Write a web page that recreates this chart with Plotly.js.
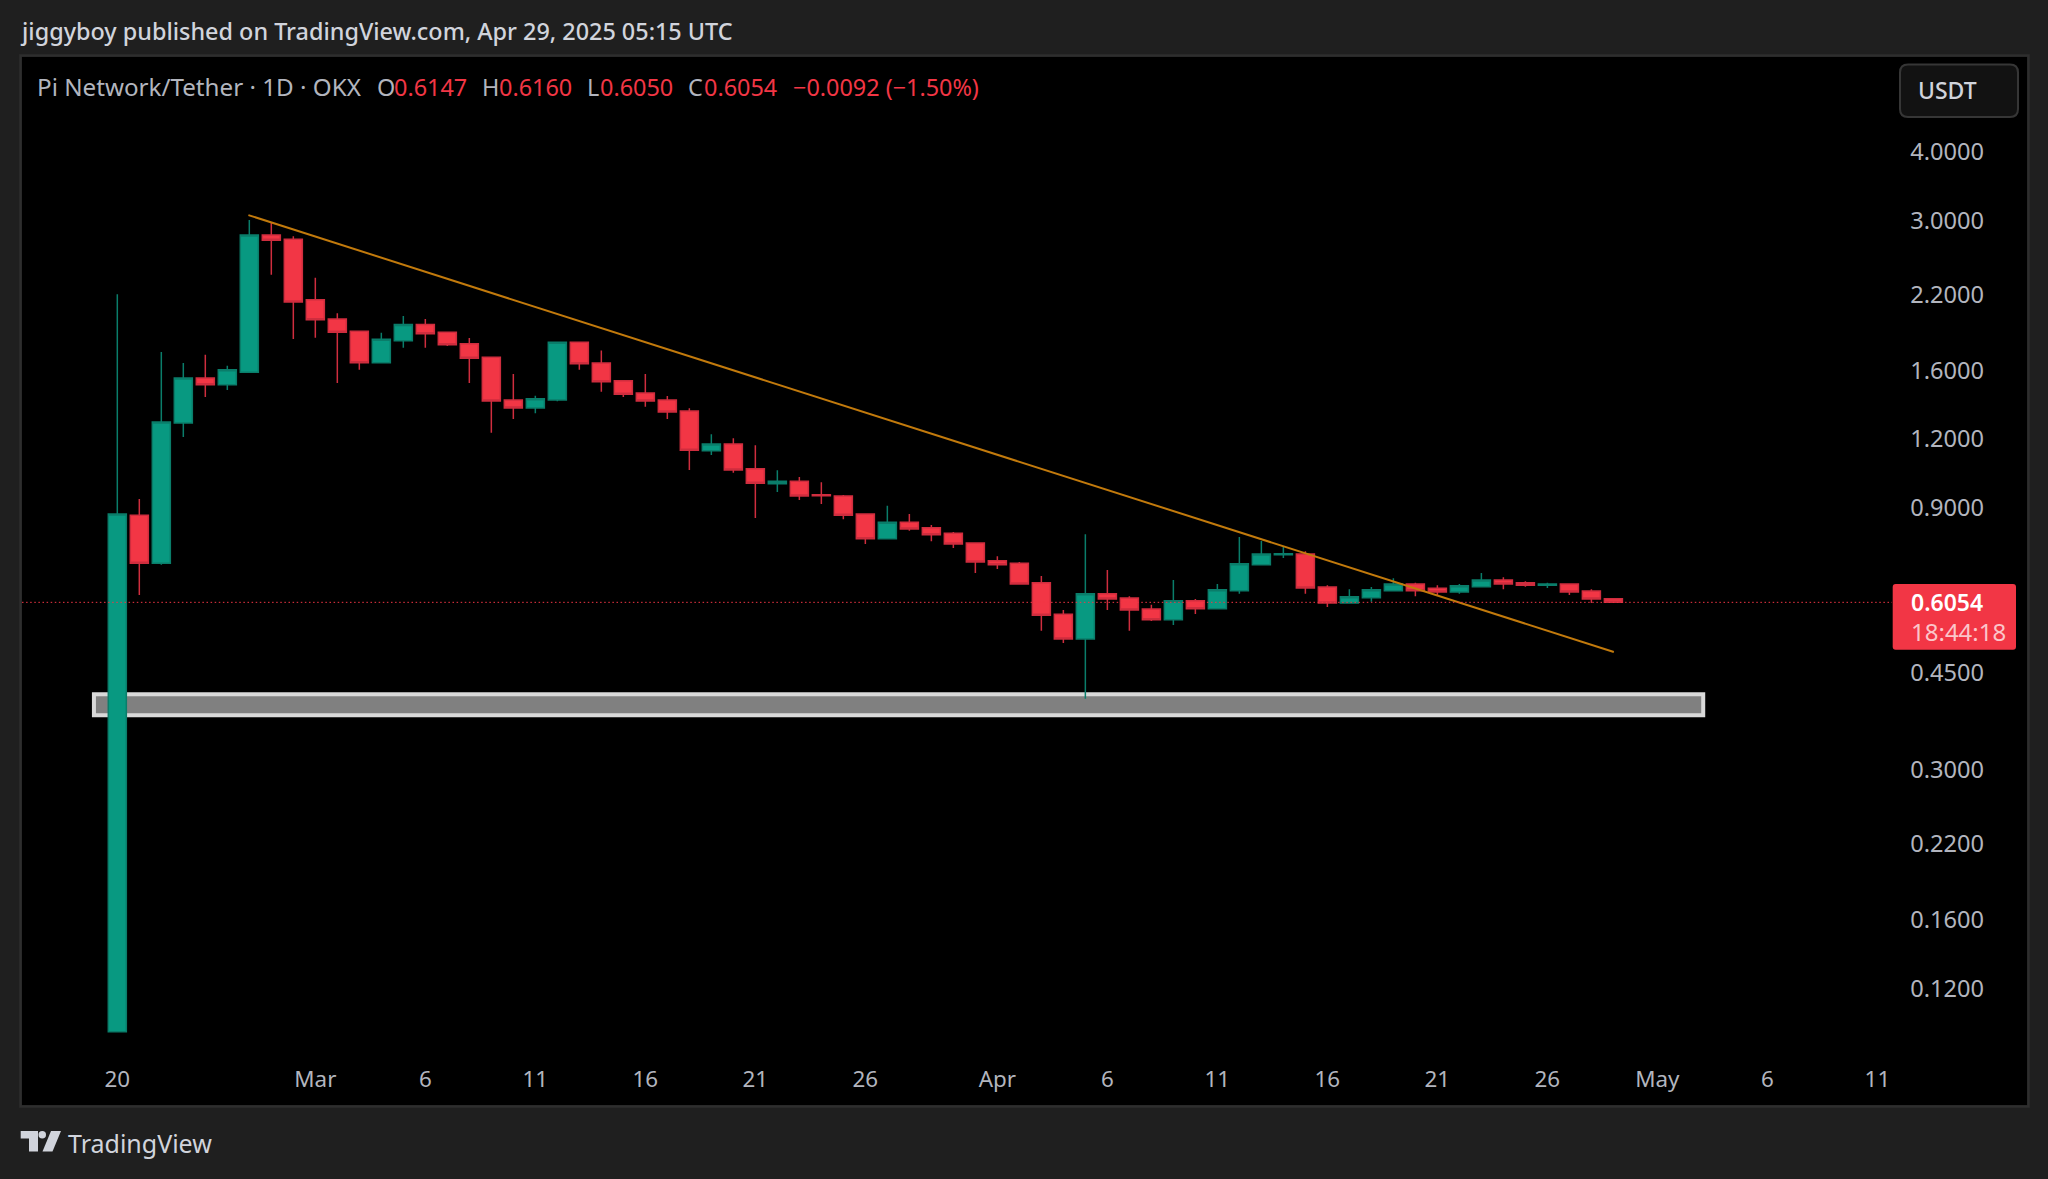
<!DOCTYPE html>
<html><head><meta charset="utf-8">
<script src="https://cdn.plot.ly/plotly-3.0.1.min.js"></script>
<style>html,body{margin:0;padding:0;background:#1f1f1f;overflow:hidden}#c{width:2048px;height:1179px}</style>
</head><body><div id="c"></div>
<script>
const dates=["2025-02-20","2025-02-21","2025-02-22","2025-02-23","2025-02-24","2025-02-25","2025-02-26","2025-02-27","2025-02-28","2025-03-01","2025-03-02","2025-03-03","2025-03-04","2025-03-05","2025-03-06","2025-03-07","2025-03-08","2025-03-09","2025-03-10","2025-03-11","2025-03-12","2025-03-13","2025-03-14","2025-03-15","2025-03-16","2025-03-17","2025-03-18","2025-03-19","2025-03-20","2025-03-21","2025-03-22","2025-03-23","2025-03-24","2025-03-25","2025-03-26","2025-03-27","2025-03-28","2025-03-29","2025-03-30","2025-03-31","2025-04-01","2025-04-02","2025-04-03","2025-04-04","2025-04-05","2025-04-06","2025-04-07","2025-04-08","2025-04-09","2025-04-10","2025-04-11","2025-04-12","2025-04-13","2025-04-14","2025-04-15","2025-04-16","2025-04-17","2025-04-18","2025-04-19","2025-04-20","2025-04-21","2025-04-22","2025-04-23","2025-04-24","2025-04-25","2025-04-26","2025-04-27","2025-04-28","2025-04-29"];
const opens=[0.1000,0.8722,0.7132,1.2836,1.5504,1.5076,1.5883,2.8244,2.7732,2.1527,1.9857,1.8856,1.6532,1.8127,1.9414,1.8777,1.7901,1.6910,1.4140,1.3674,1.4140,1.8007,1.6511,1.5331,1.4561,1.4140,1.3504,1.1433,1.1758,1.0602,0.9954,1.0056,0.9506,0.9455,0.8768,0.7906,0.8470,0.8277,0.8086,0.7765,0.7210,0.7132,0.6573,0.5759,0.5192,0.6277,0.6165,0.5888,0.5628,0.6096,0.5895,0.6357,0.7090,0.7393,0.7415,0.6456,0.6038,0.6173,0.6357,0.6538,0.6421,0.6323,0.6464,0.6648,0.6573,0.6502,0.6538,0.6349,0.6147];
const highs=[2.2040,0.9337,1.7289,1.6511,1.7095,1.6326,3.0083,2.9729,2.8087,2.3603,2.0337,1.8856,1.8744,2.0109,1.9857,1.8777,1.8335,1.6910,1.5763,1.4397,1.8007,1.8007,1.7404,1.5331,1.5763,1.4379,1.3656,1.2246,1.2042,1.1694,1.0532,1.0238,1.0014,0.9494,0.8768,0.9079,0.8768,0.8372,0.8130,0.7765,0.7343,0.7171,0.6760,0.5863,0.8053,0.6935,0.6209,0.5994,0.6648,0.6140,0.6538,0.7962,0.7830,0.7645,0.7499,0.6502,0.6394,0.6456,0.6695,0.6573,0.6502,0.6538,0.6845,0.6723,0.6612,0.6573,0.6538,0.6394,0.6160];
const lows=[0.1000,0.6243,0.7090,1.2108,1.4318,1.4745,1.5883,2.3900,1.8258,1.8357,1.5184,1.6056,1.6532,1.7603,1.7603,1.7728,1.5184,1.2327,1.3060,1.3375,1.4063,1.6056,1.4641,1.4318,1.3748,1.3060,1.0545,1.1225,1.0427,0.8624,0.9615,0.9298,0.9143,0.8576,0.7732,0.7906,0.8175,0.7820,0.7603,0.6849,0.6964,0.6538,0.5375,0.5106,0.4040,0.5863,0.5375,0.5597,0.5505,0.5766,0.5895,0.6277,0.7090,0.7291,0.6277,0.5937,0.6038,0.6071,0.6357,0.6209,0.6243,0.6277,0.6464,0.6394,0.6464,0.6430,0.6243,0.6038,0.6050];
const closes=[0.8768,0.7132,1.2890,1.5504,1.5076,1.6056,2.8244,2.7618,2.1319,1.9799,1.8777,1.6532,1.8233,1.9414,1.8666,1.7826,1.6839,1.4081,1.3674,1.4217,1.8007,1.6464,1.5267,1.4482,1.4081,1.3447,1.1451,1.1758,1.0545,0.9971,1.0056,0.9455,0.9467,0.8722,0.7906,0.8470,0.8233,0.8039,0.7732,0.7171,0.7090,0.6538,0.5735,0.5192,0.6277,0.6140,0.5863,0.5628,0.6096,0.5895,0.6384,0.7120,0.7415,0.7424,0.6430,0.6038,0.6199,0.6384,0.6538,0.6357,0.6323,0.6491,0.6648,0.6538,0.6502,0.6538,0.6323,0.6140,0.6054];
const trendDates=["2025-02-25 23:00","2025-04-29 00:30"];
const trendPrices=[3.0697,0.4916];
const zoneDates=["2025-02-18 22:30","2025-05-03 02:00"];
const zonePrices=[0.4118,0.3771];
const lastPrice=0.6054;
const yTickVals=[4,3,2.2,1.6,1.2,0.9,0.45,0.3,0.22,0.16,0.12];
const yTickText=["4.0000","3.0000","2.2000","1.6000","1.2000","0.9000","0.4500","0.3000","0.2200","0.1600","0.1200"];
const xTickVals=["2025-02-20","2025-03-01","2025-03-06","2025-03-11","2025-03-16","2025-03-21","2025-03-26","2025-04-01","2025-04-06","2025-04-11","2025-04-16","2025-04-21","2025-04-26","2025-05-01","2025-05-06","2025-05-11"];
const xTickText=["20","Mar","6","11","16","21","26","Apr","6","11","16","21","26","May","6","11"];

const PL=22,PR=2027,PT=57,PB=1105;
const fx=p=>(p-PL)/(PR-PL), fy=p=>(PB-p)/(PB-PT);
const GREY="#b2b5be",RED="#f23645",FONT="Noto Sans";
function note(px,py,text,size,color,weight,anchor){
  return {xref:"paper",yref:"paper",x:fx(px),y:fy(py),text:text,showarrow:false,xanchor:anchor||"left",yanchor:"middle",
    font:{family:FONT,size:size,color:color,weight:weight||400},align:"left",borderpad:0};
}
function rrect(x0,y0,x1,y1,r){
  const a=fx,b=fy;
  return "M"+a(x0+r)+" "+b(y0)+" L"+a(x1-r)+" "+b(y0)+" Q"+a(x1)+" "+b(y0)+" "+a(x1)+" "+b(y0+r)+
    " L"+a(x1)+" "+b(y1-r)+" Q"+a(x1)+" "+b(y1)+" "+a(x1-r)+" "+b(y1)+
    " L"+a(x0+r)+" "+b(y1)+" Q"+a(x0)+" "+b(y1)+" "+a(x0)+" "+b(y1-r)+
    " L"+a(x0)+" "+b(y0+r)+" Q"+a(x0)+" "+b(y0)+" "+a(x0+r)+" "+b(y0)+" Z";
}
function poly(pts){return "M"+pts.map(p=>fx(p[0])+" "+fy(p[1])).join(" L")+" Z";}
const LOGO="#d1d4dc";
const shapes=[
 {type:"rect",xref:"x",yref:"y",x0:zoneDates[0],x1:zoneDates[1],y0:zonePrices[1],y1:zonePrices[0],fillcolor:"#808080",line:{color:"#d9d9d9",width:4},layer:"below"},
 {type:"line",xref:"paper",yref:"y",x0:0,x1:fx(1892),y0:lastPrice,y1:lastPrice,line:{color:RED,width:1,dash:"1.5px,2.6px"},layer:"above"},
 {type:"path",xref:"paper",yref:"paper",path:rrect(1892.7,584,2016,649.7,3),fillcolor:RED,line:{width:0},layer:"above"},
 {type:"path",xref:"paper",yref:"paper",path:rrect(1900,64.5,2018,117,8),fillcolor:"#121212",line:{color:"#363636",width:2},layer:"above"},
 {type:"rect",xref:"paper",yref:"paper",x0:fx(20.5),x1:fx(2028.5),y0:fy(1106.5),y1:fy(55.5),line:{color:"#2e2e2e",width:2.5},fillcolor:"rgba(0,0,0,0)",layer:"above"},
 {type:"path",xref:"paper",yref:"paper",path:poly([[20.7,1131],[38,1131],[38,1151.5],[29,1151.5],[29,1138.5],[20.7,1138.5]]),fillcolor:LOGO,line:{width:0}},
 {type:"circle",xref:"paper",yref:"paper",x0:fx(38.5),x1:fx(46),y0:fy(1138.5),y1:fy(1131),fillcolor:LOGO,line:{width:0}},
 {type:"path",xref:"paper",yref:"paper",path:poly([[51,1131],[61,1131],[52.5,1151.5],[42.5,1151.5]]),fillcolor:LOGO,line:{width:0}}
];
const annotations=[
 note(18.5,31,"jiggyboy published on TradingView.com, Apr 29, 2025 05:15 UTC",23.4,"#d1d4dc",500),
 note(36,87,"Pi Network/Tether · 1D · OKX",24.2,GREY),
 note(376,87,"O",23.4,GREY),note(393,87,"0.6147",23.4,RED),
 note(481,87,"H",23.4,GREY),note(498,87,"0.6160",23.4,RED),
 note(586,87,"L",23.4,GREY),note(599,87,"0.6050",23.4,RED),
 note(687,87,"C",23.4,GREY),note(703,87,"0.6054",23.4,RED),
 note(792,87,"−0.0092 (−1.50%)",23.4,RED),
 note(1917,90,"USDT",23,"#d1d4dc",500),
 note(1910,602,"0.6054",23,"#ffffff",600),
 note(1910,631.7,"18:44:18",24,"rgba(255,255,255,0.72)"),
 note(67,1143,"TradingView",25,LOGO)
];
const traces=[
 {type:"candlestick",x:dates,open:opens,high:highs,low:lows,close:closes,
  increasing:{line:{color:"#0a7d6a",width:1.5},fillcolor:"#089981"},
  decreasing:{line:{color:"#cf2d3e",width:1.5},fillcolor:"#f23645"},
  whiskerwidth:0,hoverinfo:"skip",showlegend:false},
 {type:"scatter",mode:"lines",x:trendDates,y:trendPrices,line:{color:"#c27a0c",width:2},hoverinfo:"skip",showlegend:false}
];
const layout={width:2048,height:1179,autosize:false,paper_bgcolor:"#1f1f1f",plot_bgcolor:"#000000",
 margin:{l:PL,r:2048-PR,t:PT,b:1179-PB,pad:0},showlegend:false,boxgap:0.18,boxgroupgap:0,
 xaxis:{type:"date",range:["2025-02-15 16:02","2025-05-17 19:12"],anchor:"free",position:0.0397,tickmode:"array",tickvals:xTickVals,ticktext:xTickText,
   showgrid:false,zeroline:false,showline:false,ticks:"",rangeslider:{visible:false},tickfont:{family:FONT,size:22.4,color:GREY}},
 yaxis:{type:"log",range:[-1.13329,0.77504],anchor:"free",position:0.9413,side:"right",tickmode:"array",tickvals:yTickVals,ticktext:yTickText,
   showgrid:false,zeroline:false,showline:false,ticks:"",tickfont:{family:FONT,size:23.6,color:GREY}},
 shapes:shapes,annotations:annotations};
Plotly.newPlot("c",traces,layout,{staticPlot:true,displayModeBar:false});
</script></body></html>
